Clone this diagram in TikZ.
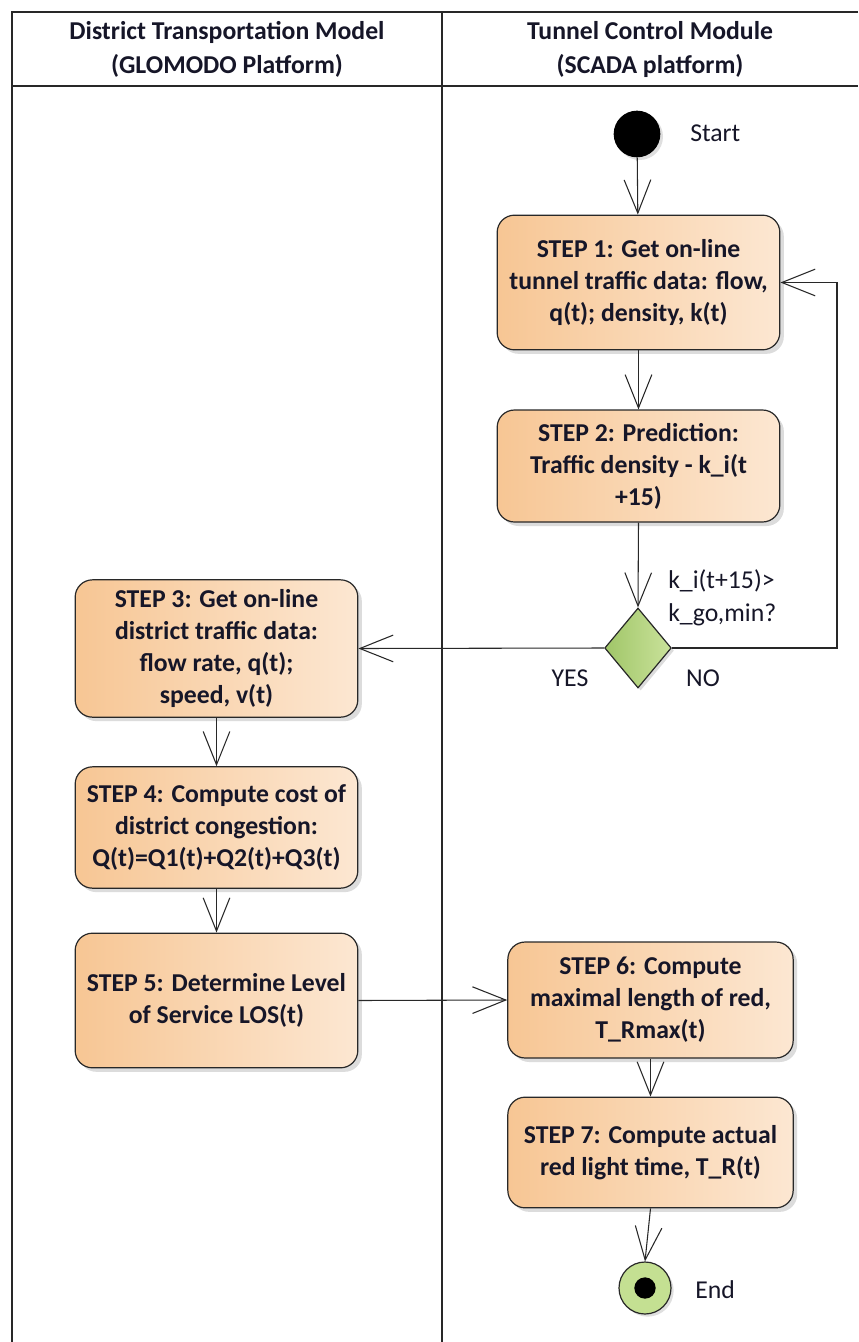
\documentclass[tikz,border=0pt]{standalone}
\usepackage{fontspec}
\setmainfont{Carlito}
\usetikzlibrary{arrows.meta,positioning,shapes.geometric,shadows}

\definecolor{stepL}{RGB}{247,198,148}
\definecolor{stepR}{RGB}{252,231,210}
\definecolor{decL}{RGB}{160,198,104}
\definecolor{decR}{RGB}{202,226,155}
\definecolor{endfill}{RGB}{196,224,146}
\definecolor{linec}{RGB}{40,40,40}
\definecolor{txt}{RGB}{22,22,40}

\begin{document}
\begin{tikzpicture}[
  x=0.75pt, y=-0.75pt,
  font=\fontsize{19.3}{24}\selectfont,
  stepbox/.style={draw=linec, line width=0.9pt, rounded corners=13pt, left color=stepL, right color=stepR, align=center, inner sep=2pt, text=txt, font=\fontsize{19.3}{24}\selectfont\bfseries, drop shadow={shadow xshift=3pt, shadow yshift=-3pt, opacity=0.3, fill=black!45}, minimum width=212pt},
  decision/.style={diamond, draw=linec, line width=0.9pt, left color=decL, right color=decR, minimum width=50pt, minimum height=60pt, inner sep=0pt, drop shadow={shadow xshift=2pt, shadow yshift=-2pt, opacity=0.3, fill=black!45}},
  lane_hdr/.style={align=center, text=txt, font=\fontsize{19.3}{25.5}\selectfont\bfseries},
  lbl/.style={text=txt, inner sep=0pt},
  lane/.style={draw=linec, line width=0.9pt},
  flow/.style={-{Straight Barb[length=25pt, width=20pt]}, line width=0.8pt, draw=linec}
]
  \useasboundingbox (0,0) rectangle (858,1342);

  % Swimlanes
  \draw[lane] (858,12) -- (12,12) -- (12,1342);
  \draw[lane] (12,86) -- (858,86);
  \draw[lane] (442,12) -- (442,1342);
  \node[lane_hdr] (hdrleft) at (227,49) {District Transportation Model\\(GLOMODO Platform)};
  \node[lane_hdr] (hdrright) at (650,49) {Tunnel Control Module\\(SCADA platform)};

  % Tunnel control lane (right)
  \node[circle, fill=black, minimum size=35pt, inner sep=0pt, drop shadow={shadow xshift=2pt, shadow yshift=-2pt, opacity=0.25}] (start) at (637,134) {};
  \node[lbl, anchor=west] (starttxt) at (690,133) {Start};
  \node[stepbox, minimum height=101pt] (s1) at (638.5,282.5) {STEP 1: Get on-line\\tunnel traffic data: flow,\\q(t); density, k(t)};
  \node[stepbox, minimum height=84pt] (s2) at (638.5,466) {STEP 2: Prediction:\\Traffic density - k\_i(t\\+15)};
  \node[decision] (dec) at (638,648) {};
  \node[lbl, anchor=west, align=left, font=\fontsize{19.3}{25}\selectfont] (cond) at (668,598) {k\_i(t+15)>\\k\_go,min?};
  \node[lbl] (yes) at (570,678) {YES};
  \node[lbl] (no) at (703,678) {NO};

  % District model lane (left)
  \node[stepbox, minimum height=103pt] (s3) at (216.5,648.5) {STEP 3: Get on-line\\district traffic data:\\flow rate, q(t);\\speed, v(t)};
  \node[stepbox, minimum height=91pt] (s4) at (216.5,827.5) {STEP 4: Compute cost of\\district congestion:\\Q(t)=Q1(t)+Q2(t)+Q3(t)};
  \node[stepbox, minimum height=101pt] (s5) at (216.5,1000.5) {STEP 5: Determine Level\\of Service LOS(t)};

  % Back to the tunnel lane
  \node[stepbox, minimum width=214pt, minimum height=87pt] (s6) at (650.5,1000) {STEP 6: Compute\\maximal length of red,\\T\_Rmax(t)};
  \node[stepbox, minimum width=214pt, minimum height=83pt] (s7) at (650.5,1152.5) {STEP 7: Compute actual\\red light time, T\_R(t)};
  \node[circle, draw=linec, line width=0.9pt, fill=endfill, minimum size=39pt, inner sep=0pt, drop shadow={shadow xshift=2pt, shadow yshift=-2pt, opacity=0.25}] (finish) at (645,1288) {};
  \node[circle, fill=black, minimum size=16pt, inner sep=0pt] (finishdot) at (finish) {};
  \node[lbl, anchor=west] (endtxt) at (695,1290) {End};

  % Control flow
  \coordinate (loop) at (837,648);
  \draw[flow] (start) -- (s1);
  \draw[flow] (s1) -- (s2);
  \draw[flow] (s2.south) -- (dec.north);
  \draw[flow] (dec.east) -- (loop) |- (s1.east);
  \draw[flow] (dec.west) -- (s3.east);
  \draw[flow] (s3) -- (s4);
  \draw[flow] (s4) -- (s5);
  \draw[flow] (s5.east) -- (s6.west);
  \draw[flow] (s6) -- (s7);
  \draw[flow] (s7.south) -- (finish.north);
\end{tikzpicture}
\end{document}
